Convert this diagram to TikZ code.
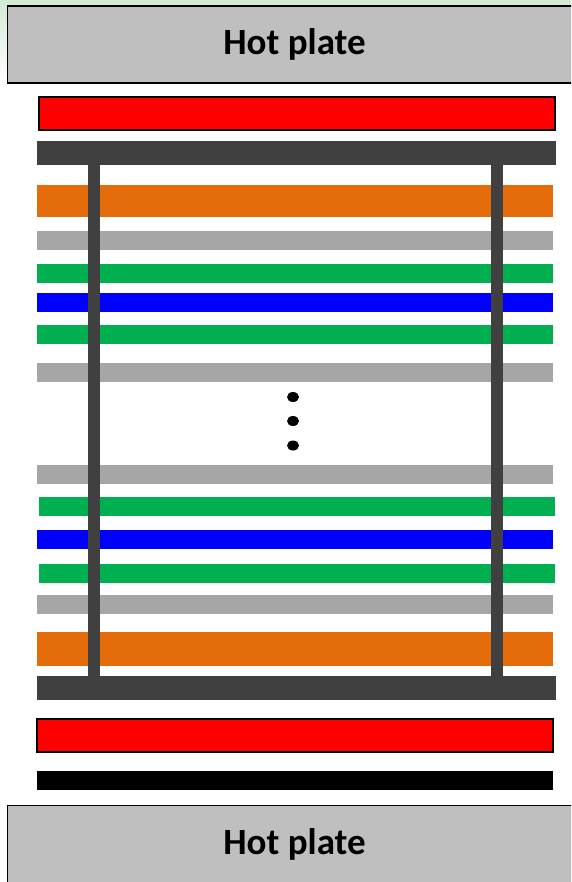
\documentclass[tikz,border=0pt]{standalone}
\usepackage{fontspec}
\setmainfont{Carlito}
\usepackage{tikz}
\usetikzlibrary{shapes.geometric}

\definecolor{plategray}{HTML}{BFBFBF}
\definecolor{darkbar}{HTML}{404040}
\definecolor{orangebar}{HTML}{E46C0A}
\definecolor{graybar}{HTML}{A6A6A6}
\definecolor{greenbar}{HTML}{00B050}
\definecolor{tintgreen}{HTML}{D3EAD3}

\begin{document}
\begin{tikzpicture}[
  x=1pt, y=-1pt,
  bar/.style={rectangle, anchor=north west, inner sep=0pt, outer sep=0pt, minimum width=516pt},
  plate/.style={bar, draw=black, line width=1.5pt, fill=plategray, minimum width=570pt,
                minimum height=77pt},
  heater/.style={bar, draw=black, line width=2pt, fill=red, minimum height=33pt},
  leg/.style={darkbar, line width=12pt},
  platelabel/.style={font=\bfseries\fontsize{37}{37}\selectfont, inner sep=0pt, anchor=base},
  dot/.style={ellipse, fill=black, inner sep=0pt, minimum width=12pt, minimum height=10pt}
]
\clip (0,0) rectangle (571,882);
\fill[white] (0,0) rectangle (571,882);
\fill[tintgreen] (0,0) rectangle (571,5);
\fill[top color=tintgreen, bottom color=white] (0,0) rectangle (7,84);
% plates and heaters
\node[plate] (hottop) at (7.5,6) {};
\node[platelabel] (hottoplabel) at (294.5,55) {Hot plate};
\node[heater] (redtop) at (39,97) {};
\node[bar, fill=darkbar, minimum width=519pt, minimum height=24pt] (darktop) at (37,141) {};
% upper stack
\node[bar, fill=orangebar, minimum height=32pt] (orangetop) at (37,185) {};
\node[bar, fill=graybar, minimum height=19pt] (graya) at (37,231) {};
\node[bar, fill=greenbar, minimum height=19pt] (greena) at (37,264) {};
\node[bar, fill=blue, minimum height=19pt] (bluea) at (37,293) {};
\node[bar, fill=greenbar, minimum height=19pt] (greenb) at (37,325) {};
\node[bar, fill=graybar, minimum height=19pt] (grayb) at (37,363) {};
% repeated layers
\node[dot] (dota) at (293,397) {};
\node[dot] (dotb) at (293,421) {};
\node[dot] (dotc) at (293,445.5) {};
% lower stack
\node[bar, fill=graybar, minimum height=19pt] (grayc) at (37,465) {};
\node[bar, fill=greenbar, minimum height=19pt] (greenc) at (39,497) {};
\node[bar, fill=blue, minimum height=19pt] (blueb) at (37,530) {};
\node[bar, fill=greenbar, minimum height=19pt] (greend) at (39,564) {};
\node[bar, fill=graybar, minimum height=19pt] (grayd) at (37,595) {};
\node[bar, fill=orangebar, minimum height=34pt] (orangebot) at (37,632) {};
\node[bar, fill=darkbar, minimum width=519pt, minimum height=24pt] (darkbot) at (37,676) {};
\node[heater] (redbot) at (37,718.5) {};
\node[bar, fill=black, minimum height=19pt] (blackbar) at (37,771) {};
\node[plate] (hotbot) at (7.5,805.5) {};
\node[platelabel] (hotbotlabel) at (294.5,854) {Hot plate};
% legs
\coordinate (legleft) at (94,0);
\coordinate (legright) at (497,0);
\draw[leg] (legleft |- darktop.south) -- (legleft |- darkbot.north);
\draw[leg] (legright |- darktop.south) -- (legright |- darkbot.north);
\end{tikzpicture}
\end{document}
